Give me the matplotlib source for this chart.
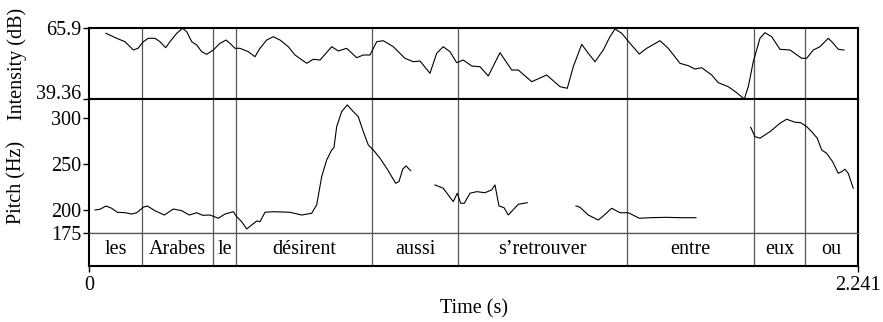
import numpy as np
import matplotlib
matplotlib.use('Agg')
import matplotlib.pyplot as plt

plt.rcParams.update({
    'font.family': 'serif',
    'font.serif': ['Liberation Serif', 'DejaVu Serif'],
    'font.size': 14.5,
})

T_END = 2.241
INT_MIN, INT_MAX = 39.36, 65.9
PITCH_MIN, PITCH_MAX = 175, 320.5

# intensity contour (s, dB)
int_time = [0.0495, 0.0807, 0.1049, 0.1291, 0.1428, 0.1582, 0.1728, 0.1923, 0.2069, 0.2235,
            0.2360, 0.2556, 0.2730, 0.2847, 0.2993, 0.3138, 0.3284, 0.3430, 0.3622, 0.3817,
            0.3992, 0.4109, 0.4254, 0.4400, 0.4642, 0.4837, 0.4983, 0.5178, 0.5371, 0.5566,
            0.5808, 0.6003, 0.6344, 0.6536, 0.6732, 0.7073, 0.7265, 0.7509, 0.7801, 0.7993,
            0.8189, 0.8384, 0.8576, 0.8867, 0.9208, 0.9450, 0.9645, 0.9937, 1.0132, 1.0324,
            1.0520, 1.0715, 1.0907, 1.1152, 1.1394, 1.1636, 1.1977, 1.2318, 1.2510, 1.2901,
            1.3338, 1.3726, 1.3938, 1.4113, 1.4358, 1.4550, 1.4746, 1.4987, 1.5182, 1.5328,
            1.5524, 1.5766, 1.6036, 1.6252, 1.6639, 1.6881, 1.7222, 1.7464, 1.7660, 1.7855,
            1.8146, 1.8339, 1.8630, 1.8875, 1.9096, 1.9213, 1.9358, 1.9553, 1.9699, 1.9894,
            2.0136, 2.0428, 2.0769, 2.0914, 2.1107, 2.1302, 2.1544, 2.1690, 2.1835, 2.2001]
int_db = [63.92, 62.05, 60.78, 57.68, 58.31, 60.78, 62.05, 62.05, 60.78, 58.54,
          60.78, 63.92, 65.79, 64.52, 60.78, 59.55, 57.04, 56.07, 57.68, 60.18,
          61.41, 60.18, 58.31, 58.31, 57.04, 55.17, 58.31, 61.41, 62.65, 61.41,
          58.91, 55.81, 52.70, 54.20, 53.94, 58.91, 57.30, 58.31, 54.80, 55.81,
          55.81, 60.78, 61.15, 58.91, 54.57, 53.30, 53.56, 48.97, 56.44, 58.91,
          57.04, 52.93, 53.94, 51.70, 51.43, 47.96, 56.67, 50.20, 50.20, 45.83,
          48.33, 43.96, 43.36, 51.43, 59.81, 56.44, 53.30, 57.68, 62.65, 65.53,
          63.92, 60.18, 56.18, 58.31, 61.15, 58.31, 52.70, 51.81, 50.57, 51.06,
          48.33, 45.45, 43.96, 41.71, 39.36, 43.96, 53.30, 62.05, 64.14, 62.65,
          57.94, 57.68, 54.57, 54.57, 57.68, 58.91, 62.05, 60.18, 57.94, 57.68]

# pitch contour, one list per voiced stretch (s, Hz)
pitch_t1 = [0.0175, 0.0321, 0.0495, 0.0661, 0.0825, 0.1049, 0.1244, 0.1390, 0.1582, 0.1699,
            0.1923, 0.2194, 0.2457, 0.2701, 0.2923, 0.3138, 0.3313, 0.3526, 0.3768, 0.3963,
            0.4205, 0.4304, 0.4450, 0.4595, 0.4741, 0.4887, 0.4983, 0.5129, 0.5371, 0.5857,
            0.6198, 0.6489, 0.6635, 0.6781, 0.6927, 0.7073, 0.7139, 0.7218, 0.7364, 0.7527,
            0.7655, 0.7847, 0.7993, 0.8139, 0.8285, 0.8480, 0.8675, 0.8937, 0.9033, 0.9141,
            0.9237, 0.9374]
pitch_f1 = [200.3, 201.0, 204.6, 202.1, 197.8, 197.3, 195.9, 197.3, 203.2, 204.6,
            199.5, 194.8, 201.3, 199.5, 194.8, 197.3, 194.5, 194.8, 191.3, 195.9,
            198.4, 193.0, 187.6, 179.7, 184.0, 188.3, 187.6, 197.8, 198.4, 197.8,
            194.8, 196.7, 205.7, 236.4, 254.5, 265.3, 267.8, 290.6, 306.9, 314.1,
            308.7, 301.4, 285.1, 270.7, 265.3, 256.3, 245.5, 229.2, 231.0, 244.4,
            248.0, 242.9]
pitch_t2 = [1.0082, 1.0324, 1.0470, 1.0616, 1.0732, 1.0831, 1.0936, 1.1102, 1.1298, 1.1539,
            1.1735, 1.1831, 1.1947, 1.2093, 1.2218, 1.2510, 1.2772]
pitch_f2 = [227.4, 223.8, 216.5, 209.3, 218.4, 207.5, 207.5, 218.4, 220.1, 219.0,
            222.0, 227.4, 204.6, 202.8, 194.8, 206.4, 208.2]
pitch_t3 = [1.4191, 1.4308, 1.4550, 1.4841, 1.4987, 1.5232, 1.5474, 1.5716, 1.6036, 1.6348,
            1.6834, 1.7222, 1.7688]
pitch_f3 = [204.6, 203.2, 194.8, 189.4, 193.8, 202.1, 197.3, 197.3, 191.3, 191.9,
            192.3, 191.9, 191.9]
pitch_t4 = [1.9282, 1.9407, 1.9553, 1.9844, 2.0136, 2.0331, 2.0573, 2.0739, 2.0914, 2.1060,
            2.1223, 2.1351, 2.1496, 2.1671, 2.1835, 2.1934, 2.2030, 2.2126, 2.2272]
pitch_f4 = [289.9, 279.7, 278.0, 285.1, 294.2, 298.6, 295.3, 294.9, 290.6, 285.1,
            278.0, 265.3, 261.7, 252.6, 240.0, 241.8, 244.4, 240.0, 223.8]

# word tier
word_bounds = [0.1553, 0.362, 0.429, 0.825, 1.076, 1.567, 1.938, 2.088]
words = ['les', 'Arabes', 'le', 'désirent', 'aussi', 's\u2019retrouver', 'entre', 'eux', 'ou']
pitch_ticks = [175, 200, 250, 300]
int_ticks = [INT_MIN, INT_MAX]
int_tick_labels = ['39.36', '65.9']

W, H = 883, 322
fig = plt.figure(figsize=(W / 100, H / 100), dpi=100)

def box(x0, y0, x1, y1):
    # pixel box (top-left origin) -> figure fraction rect
    return [x0 / W, 1 - y1 / H, (x1 - x0) / W, (y1 - y0) / H]

X0, X1 = 89, 858
ax_int = fig.add_axes(box(X0, 28, X1, 99))
ax_pit = fig.add_axes(box(X0, 99, X1, 233.3))
ax_tier = fig.add_axes(box(X0, 233.3, X1, 266))

THICK, CURVE = 1.5, 0.8
GREY = '#555555'

for ax in (ax_int, ax_pit, ax_tier):
    ax.set_xlim(0, T_END)
    for s in ax.spines.values():
        s.set_linewidth(THICK)
        s.set_color('black')
    for b in word_bounds:
        ax.axvline(b, color=GREY, lw=0.9, zorder=1)
    ax.set_xticks([])

# intensity
ax_int.plot(int_time, int_db, color='black', lw=CURVE, zorder=3, clip_on=False)
ax_int.set_ylim(INT_MIN, INT_MAX)
ax_int.set_yticks(int_ticks)
ax_int.set_yticklabels(int_tick_labels)
ax_int.tick_params(axis='y', direction='out', length=4.5, width=1, pad=1)
lbl_lo, lbl_hi = ax_int.get_yticklabels()
lbl_lo.set_verticalalignment('baseline')
lbl_hi.set_verticalalignment('center_baseline')

# pitch
for t, f in ((pitch_t1, pitch_f1), (pitch_t2, pitch_f2),
             (pitch_t3, pitch_f3), (pitch_t4, pitch_f4)):
    ax_pit.plot(t, f, color='black', lw=CURVE, zorder=3)
ax_pit.set_ylim(PITCH_MIN, PITCH_MAX)
ax_pit.set_yticks(pitch_ticks)
ax_pit.tick_params(axis='y', direction='out', length=4.5, width=1, pad=1)
ax_pit.spines['bottom'].set_linewidth(0.9)
ax_pit.spines['bottom'].set_color(GREY)

# text tier
ax_tier.set_ylim(0, 1)
ax_tier.set_yticks([])
ax_tier.spines['top'].set_linewidth(0.9)
ax_tier.spines['top'].set_color(GREY)
edges = [0] + word_bounds + [T_END]
for w, a, b in zip(words, edges[:-1], edges[1:]):
    ax_tier.text((a + b) / 2, 0.5, w, ha='center', va='center')
ax_tier.set_xticks([0, T_END])
ax_tier.set_xticklabels(['0', '2.241'])
ax_tier.tick_params(axis='x', direction='out', length=4.5, width=1, pad=3)

fig.text(474 / W, 1 - 309 / H, 'Time (s)', ha='center', va='center')
fig.text(17 / W, 1 - 63.5 / H, 'Intensity (dB)', rotation=90, ha='center', va='center')
fig.text(17 / W, 1 - 182.5 / H, 'Pitch (Hz)', rotation=90, ha='center', va='center')

fig.savefig('out.png', dpi=100)
